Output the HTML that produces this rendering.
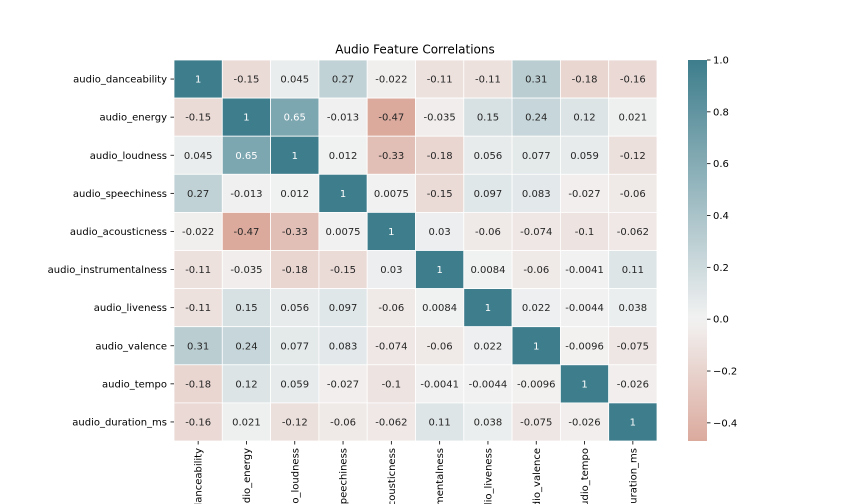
<!DOCTYPE html>
<html><head><meta charset="utf-8"><style>
html,body{margin:0;background:#fff;width:864px;height:504px;overflow:hidden;}
svg{display:block;font-family:"DejaVu Sans","Liberation Sans",sans-serif;overflow:hidden;}
</style></head><body>
<svg id="chart" width="864" height="504" viewBox="0 0 864 504" xmlns="http://www.w3.org/2000/svg">
<defs><linearGradient id="cbg" x1="0" y1="1" x2="0" y2="0"></linearGradient>
<clipPath id="frame"><rect x="0" y="0" width="864" height="504"/></clipPath></defs>
<text x="415" y="53.5" text-anchor="middle" font-size="12">Audio Feature Correlations</text>
<g id="cells"></g><g id="ylabels"></g><g id="xlabels" clip-path="url(#frame)"></g><g id="cbar"></g>
</svg>
<script>
const features = ["audio_danceability","audio_energy","audio_loudness","audio_speechiness","audio_acousticness","audio_instrumentalness","audio_liveness","audio_valence","audio_tempo","audio_duration_ms"];
const row0 = [1,-0.15,0.045,0.27,-0.022,-0.11,-0.11,0.31,-0.18,-0.16];
const row1 = [-0.15,1,0.65,-0.013,-0.47,-0.035,0.15,0.24,0.12,0.021];
const row2 = [0.045,0.65,1,0.012,-0.33,-0.18,0.056,0.077,0.059,-0.12];
const row3 = [0.27,-0.013,0.012,1,0.0075,-0.15,0.097,0.083,-0.027,-0.06];
const row4 = [-0.022,-0.47,-0.33,0.0075,1,0.03,-0.06,-0.074,-0.1,-0.062];
const row5 = [-0.11,-0.035,-0.18,-0.15,0.03,1,0.0084,-0.06,-0.0041,0.11];
const row6 = [-0.11,0.15,0.056,0.097,-0.06,0.0084,1,0.022,-0.0044,0.038];
const row7 = [0.31,0.24,0.077,0.083,-0.074,-0.06,0.022,1,-0.0096,-0.075];
const row8 = [-0.18,0.12,0.059,-0.027,-0.1,-0.0041,-0.0044,-0.0096,1,-0.026];
const row9 = [-0.16,0.021,-0.12,-0.06,-0.062,0.11,0.038,-0.075,-0.026,1];
const matrix = [row0,row1,row2,row3,row4,row5,row6,row7,row8,row9];
const cbTicks = [-0.4,-0.2,0.0,0.2,0.4,0.6,0.8,1.0];
const cbTickLabels = ["\u22120.4","\u22120.2","0.0","0.2","0.4","0.6","0.8","1.0"];

const NS="http://www.w3.org/2000/svg";
const X0=174,X1=657,Y0=60,Y1=441;
const n=features.length, cw=(X1-X0)/n, ch=(Y1-Y0)/n;
let vmin=Infinity,vmax=-Infinity;
matrix.forEach(r=>r.forEach(v=>{vmin=Math.min(vmin,v);vmax=Math.max(vmax,v);}));
const NEG=[193,88,61], MID=[242,242,242], POS=[61,125,140];
function color(v){
  const t=Math.max(-1,Math.min(1,v)); const e=t<0?NEG:POS; const a=Math.abs(t);
  return MID.map((m,i)=>Math.round(m+(e[i]-m)*a));
}
function rgb(c){return `rgb(${c[0]},${c[1]},${c[2]})`;}
function lum(c){const l=c.map(x=>{x/=255;return x<=0.03928?x/12.92:Math.pow((x+0.055)/1.055,2.4);});return 0.2126*l[0]+0.7152*l[1]+0.0722*l[2];}
function mk(tag,attrs,parent){const e=document.createElementNS(NS,tag);for(const k in attrs)e.setAttribute(k,attrs[k]);parent.appendChild(e);return e;}
const cells=document.getElementById('cells');
matrix.forEach((r,i)=>r.forEach((v,j)=>{
  const c=color(v);
  const rect=mk('rect',{x:X0+j*cw,y:Y0+i*ch,width:cw,height:ch,fill:rgb(c),stroke:'#fff','stroke-width':0.8},cells);
  
  
  const t=mk('text',{x:X0+(j+0.5)*cw,y:Y0+(i+0.5)*ch+3.5,'text-anchor':'middle','font-size':10,fill:lum(c)<0.408?'#fff':'#262626'},cells);
  t.textContent=String(v);
  
  
}));
const yl=document.getElementById('ylabels'), xl=document.getElementById('xlabels');
features.forEach((f,i)=>{
  const y=Y0+(i+0.5)*ch;
  mk('line',{x1:X0-3.5,x2:X0,y1:y,y2:y,stroke:'#000','stroke-width':0.8},yl);
  const t=mk('text',{x:X0-7,y:y+3.5,'text-anchor':'end','font-size':10},yl);
  t.textContent=f;
  
  
  const x=X0+(i+0.5)*cw;
  mk('line',{x1:x,x2:x,y1:Y1,y2:Y1+3.5,stroke:'#000','stroke-width':0.8},xl);
  const tx=mk('text',{transform:`translate(${x+3.5},${Y1+7}) rotate(-90)`,'text-anchor':'end','font-size':10},xl);
  tx.textContent=f;
  
  
});
const CX=688,CW=19;
const grad=document.getElementById('cbg');
for(let k=0;k<=40;k++){const v=vmin+(vmax-vmin)*k/40;mk('stop',{offset:(k/40),'stop-color':rgb(color(v))},grad);}
const cb=document.getElementById('cbar');
const bar=mk('rect',{x:CX,y:Y0,width:CW,height:Y1-Y0,fill:'url(#cbg)'},cb);


const cy=v=>Y1-(v-vmin)/(vmax-vmin)*(Y1-Y0);
cbTicks.forEach((v,k)=>{
  const y=cy(v);
  mk('line',{x1:CX+CW,x2:CX+CW+3.5,y1:y,y2:y,stroke:'#000','stroke-width':0.8},cb);
  const t=mk('text',{x:CX+CW+6,y:y+3.5,'font-size':10},cb);
  t.textContent=cbTickLabels[k];
  
  
});
</script>
</body></html>
